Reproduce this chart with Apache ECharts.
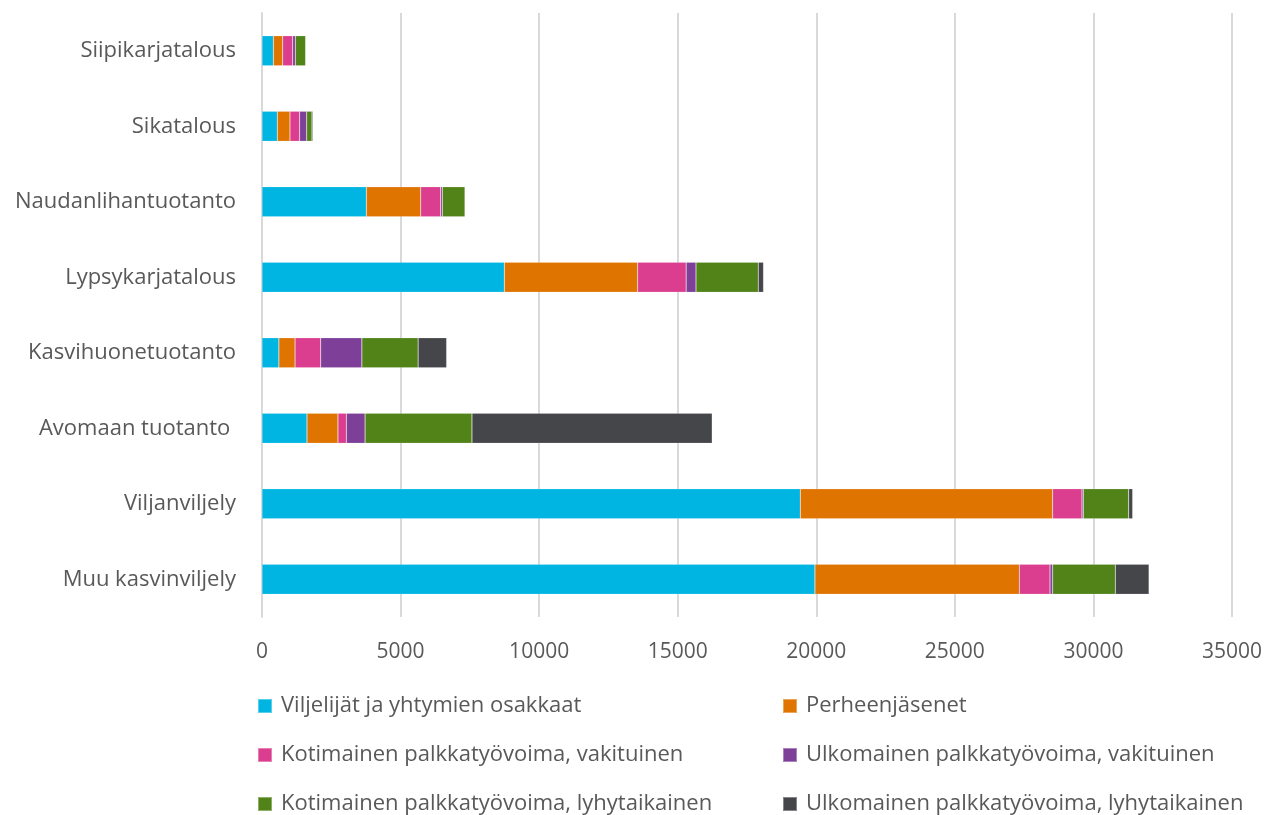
<!DOCTYPE html>
<html><head><meta charset="utf-8">
<script src="https://cdn.jsdelivr.net/npm/echarts@6/dist/echarts.min.js"></script>
<style>html,body{margin:0;padding:0;background:#fff}#c{width:1265px;height:815px}</style>
</head><body><div id="c"></div>
<script>
const categories = ['Siipikarjatalous','Sikatalous','Naudanlihantuotanto','Lypsykarjatalous','Kasvihuonetuotanto','Avomaan tuotanto ','Viljanviljely','Muu kasvinviljely'];
const seriesNames = ['Viljelijät ja yhtymien osakkaat','Perheenjäsenet','Kotimainen palkkatyövoima, vakituinen','Ulkomainen palkkatyövoima, vakituinen','Kotimainen palkkatyövoima, lyhytaikainen','Ulkomainen palkkatyövoima, lyhytaikainen'];
const viljelijat = [410, 553, 3766, 8744, 609, 1624, 19422, 19952];
const perhe = [337, 457, 1961, 4810, 584, 1117, 9107, 7375];
const kotiVak = [361, 349, 722, 1751, 926, 305, 1059, 1107];
const ulkoVak = [96, 253, 60, 355, 1485, 673, 48, 96];
const kotiLyhyt = [373, 192, 818, 2246, 2030, 3858, 1636, 2262];
const ulkoLyhyt = [0, 36, 0, 190, 1028, 8667, 144, 1215];
const xTicks = [0,5000,10000,15000,20000,25000,30000,35000];
const colors = ['#00B5E2','#DF7500','#DB3E8E','#7E3F98','#528319','#45464A'];
const values = [viljelijat, perhe, kotiVak, ulkoVak, kotiLyhyt, ulkoLyhyt];

const FONT = 'Open Sans';
const chart = echarts.init(document.getElementById('c'), null, {renderer:'canvas'});
const legendBase = {orient:'vertical', top:690, height:160, itemWidth:14, itemHeight:14, itemGap:27, icon:'rect',
  textStyle:{color:'#595959', fontSize:22, fontFamily:FONT, padding:[0,0,0,4]}};
chart.setOption({
  animation:false,
  color: colors,
  textStyle:{fontFamily:FONT},
  grid:{left:262, right:33, top:13, bottom:198, containLabel:false},
  xAxis:{type:'value', min:xTicks[0], max:xTicks[xTicks.length-1], interval:5000,
    axisLine:{show:false}, axisTick:{show:false},
    splitLine:{lineStyle:{color:'#D9D9D9', width:2}},
    axisLabel:{color:'#595959', fontSize:21, fontFamily:FONT, margin:25, formatter:v=>String(v)}},
  yAxis:{type:'category', data:categories, inverse:true,
    axisLine:{show:true, lineStyle:{color:'#D9D9D9', width:2}}, axisTick:{show:false},
    axisLabel:{color:'#595959', fontSize:22, fontFamily:FONT, margin:26, padding:[3,0,0,0]}},
  legend:[
    Object.assign({}, legendBase, {left:252, data:[seriesNames[0], seriesNames[2], seriesNames[4]]}),
    Object.assign({}, legendBase, {left:777, data:[seriesNames[1], seriesNames[3], seriesNames[5]]})
  ],
  series: seriesNames.map((n,i)=>({
    name:n, type:'bar', stack:'total', data:values[i], barWidth:30,
    itemStyle:{color:colors[i], borderColor:'rgba(255,255,255,0.35)', borderWidth:0.5}
  }))
});
</script></body></html>
